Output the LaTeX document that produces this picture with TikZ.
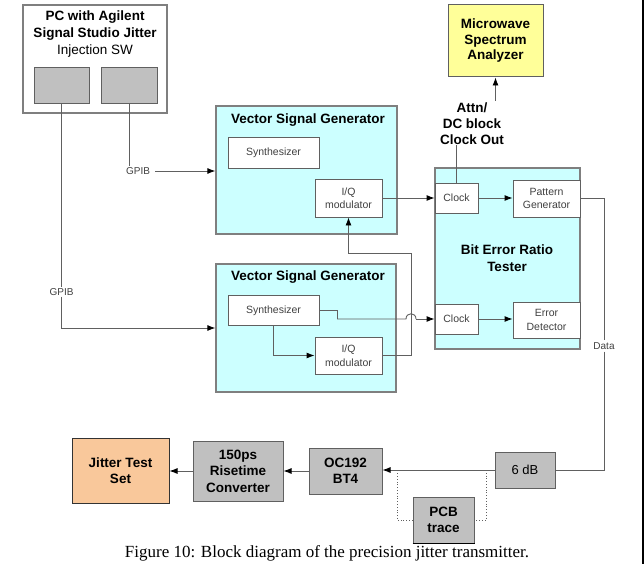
\documentclass[tikz,border=0pt]{standalone}
\usepackage{fontspec}
\setmainfont{Liberation Sans}
\newfontfamily\capfont{Liberation Serif}
\usetikzlibrary{arrows.meta}
\definecolor{cyanfill}{HTML}{CCFFFF}
\definecolor{boxgray}{HTML}{C0C0C0}
\definecolor{yellowfill}{HTML}{FFFF99}
\definecolor{peach}{HTML}{F9C89B}
\definecolor{edgegray}{HTML}{7F7F7F}
\definecolor{linegray}{HTML}{606060}
\definecolor{smalltext}{HTML}{404040}
\tikzset{
  bigbox/.style={draw=edgegray, line width=1.3pt, inner sep=0pt},
  cyanbox/.style={bigbox, fill=cyanfill},
  subbox/.style={draw=linegray, line width=0.9pt, fill=white, inner sep=0pt, align=center,
    text=smalltext, font=\fontsize{10.5}{13.5}\selectfont},
  graybox/.style={draw=linegray, line width=1pt, fill=boxgray, inner sep=0pt, align=center,
    font=\fontsize{13.5}{16.5}\selectfont\bfseries},
  title/.style={inner sep=0pt, align=center, font=\fontsize{13.5}{16.5}\selectfont\bfseries},
  small/.style={inner sep=1pt, text=smalltext, font=\fontsize{10}{12}\selectfont},
  conn/.style={draw=linegray, line width=0.9pt},
  arr/.style={conn, -{Latex[length=8pt,width=6pt,color=black]}},
  dotline/.style={draw=linegray, line width=0.8pt, dotted}
}
\begin{document}
\begin{tikzpicture}[x=1pt, y=-1pt]
\useasboundingbox (0,0) rectangle (644,564);
% PC
\node[bigbox, fill=white, minimum width=144pt, minimum height=108pt] (pc) at (95,59) {};
\node[inner sep=0pt, align=center, font=\fontsize{13.5}{17}\selectfont] (pctitle) at (95,34)
  {\textbf{PC with Agilent}\\\textbf{Signal Studio Jitter}\\Injection SW};
\node[draw=linegray, line width=1pt, fill=boxgray, minimum width=55pt, minimum height=36pt] (pcA) at (61.5,86) {};
\node[draw=linegray, line width=1pt, fill=boxgray, minimum width=56pt, minimum height=36pt] (pcB) at (129,86) {};

% VSG 1
\node[cyanbox, minimum width=181pt, minimum height=128pt] (vsg1) at (306.5,170) {};
\node[title] (vsg1t) at (308,120) {Vector Signal Generator};
\node[subbox, minimum width=91pt, minimum height=31pt] (syn1) at (273.5,152.5) {Synthesizer};
\node[subbox, minimum width=67pt, minimum height=38pt] (iq1) at (348.5,198) {I/Q\\modulator};

% VSG 2
\node[cyanbox, minimum width=180pt, minimum height=128pt] (vsg2) at (306,328) {};
\node[title] (vsg2t) at (308,277) {Vector Signal Generator};
\node[subbox, minimum width=91pt, minimum height=30pt] (syn2) at (273.5,310.5) {Synthesizer};
\node[subbox, minimum width=67pt, minimum height=37pt] (iq2) at (348.5,355.5) {I/Q\\modulator};

% BERT
\node[cyanbox, minimum width=145pt, minimum height=181pt] (bert) at (507.5,258.5) {};
\node[title] (bertt) at (507,258) {Bit Error Ratio\\Tester};
\node[subbox, minimum width=43pt, minimum height=30pt] (clk1) at (456.5,198) {Clock};
\node[subbox, minimum width=67pt, minimum height=37pt] (pg) at (546.5,198.5) {Pattern\\Generator};
\node[subbox, minimum width=43pt, minimum height=30pt] (clk2) at (456.5,319) {Clock};
\node[subbox, minimum width=67pt, minimum height=36pt] (ed) at (546.5,320) {Error\\Detector};

% Spectrum analyzer
\node[draw=linegray, line width=1pt, fill=yellowfill, minimum width=95pt, minimum height=72pt,
  inner sep=0pt, align=center, font=\fontsize{13.5}{15.5}\selectfont\bfseries] (msa) at (495.5,41)
  {Microwave\\Spectrum\\Analyzer};
\node[title, font=\fontsize{13.5}{16}\selectfont\bfseries] (attn) at (472,124) {Attn/\\DC block\\Clock Out};

% Bottom chain
\node[graybox, fill=peach, draw=black!80, minimum width=97pt, minimum height=65pt] (jts) at (120.5,470.5) {Jitter Test\\Set};
\node[graybox, minimum width=90pt, minimum height=60pt] (rtc) at (238,471) {150ps\\Risetime\\Converter};
\node[graybox, minimum width=73pt, minimum height=46pt] (oc) at (345.5,471) {OC192\\BT4};
\node[graybox, font=\fontsize{13}{16}\selectfont, minimum width=60pt, minimum height=36pt] (db6) at (525,470) {6 dB};
\node[graybox, minimum width=61pt, minimum height=46pt] (pcb) at (443.5,520) {PCB\\trace};
\draw[black, line width=1.6pt] (pcb.south west) -- (pcb.south east);

% Labels
\node[small, anchor=west] (gpib1) at (125,171) {GPIB};
\node[small] (gpib2) at (61.5,292) {GPIB};
\node[small, fill=white, inner sep=2pt] (data) at (604,346) {Data};

% Connectors
\draw[conn] (pcB.south) -- (pcB.south |- gpib1.north);
\draw[arr] (gpib1.east) ++(4,0) coordinate (g1s) -- (g1s -| vsg1.west);
\draw[conn] (pcA.south) -- (gpib2.north);
\draw[arr] (gpib2.south) |- (vsg2.west);

\draw[arr] (syn2.south) |- (iq2.west);
\coordinate (hopA) at (406,319);
\coordinate (hopB) at (416,319);
\draw[conn] (syn2.east) -- ++(18,0) |- (hopA) .. controls (406,312) and (416,312) .. (hopB);
\draw[arr] (hopB) -- (clk2.west);
\draw[arr] (iq2.east) -- ++(29,0) coordinate (r1) -- (r1 |- 0,253) coordinate (r2) -- (r2 -| iq1.south) -- (iq1.south);

\draw[arr] (iq1.east) -- (iq1.east -| clk1.west);
\draw[arr] (clk1.east) -- (clk1.east -| pg.west);
\draw[arr] (clk2.east) -- (clk2.east -| ed.west);

\draw[conn] (clk1.north) -- (clk1.north |- attn.south);
\draw[arr] (attn.north -| msa.south) ++(0,-2) -- (msa.south);

\draw[conn] (pg.east) -- ++(24,0) coordinate (d1) -- (d1 |- data.north);
\draw[conn] (data.south) |- (db6.east);
\draw[arr] (db6.west) -- (db6.west -| oc.east);
\draw[arr] (oc.west) -- (oc.west -| rtc.east);
\draw[arr] (rtc.west) -- (rtc.west -| jts.east);

\coordinate (sp1) at (486,470);
\coordinate (sp2) at (397,470);
\draw[dotline] (sp1) |- (pcb.east);
\draw[dotline] (pcb.west) -| (sp2);

% right frame line
\draw[black, line width=1.2pt] (643,0) -- (643,564);

% Caption
\node[inner sep=0pt, anchor=base, font=\capfont\fontsize{17}{20}\selectfont] (cap) at (327,557)
  {Figure 10: Block diagram of the precision jitter transmitter.};
\end{tikzpicture}
\end{document}
